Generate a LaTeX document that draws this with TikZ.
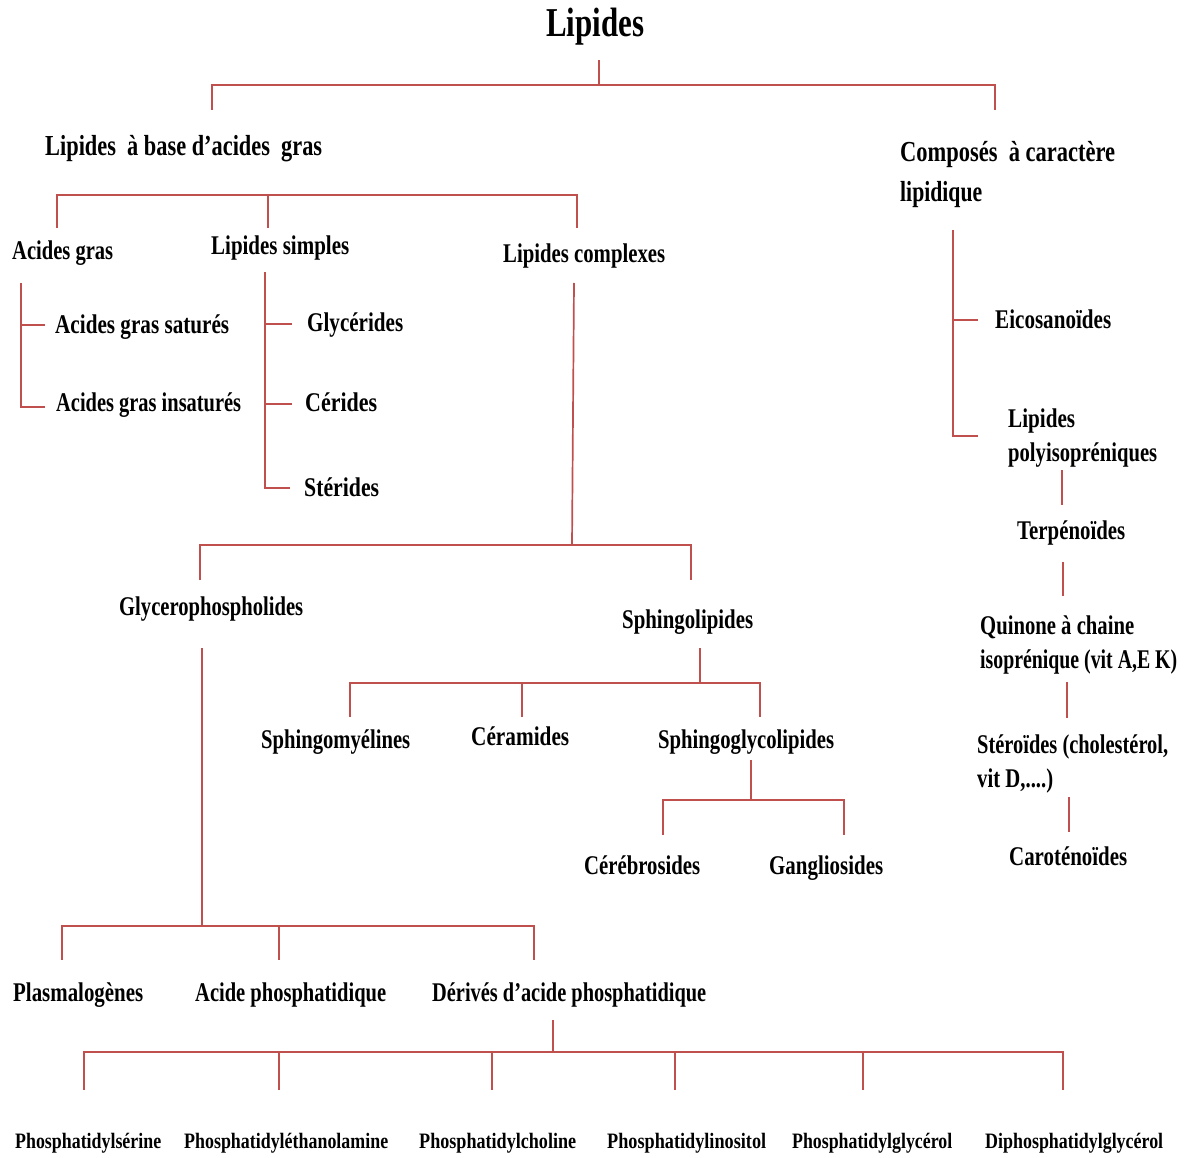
\documentclass[tikz,border=0pt]{standalone}
\usepackage{fontspec}
\usepackage{graphicx}
\setmainfont{Liberation Serif}
\definecolor{linec}{RGB}{192,80,77}
% text stretched to a given width, natural height kept
\newcommand\fitw[2]{\resizebox{#1pt}{\height}{#2}}
\tikzset{
  conn/.style={draw=linec, line width=1.7pt},
  lbl/.style={inner sep=0pt, anchor=base west, text=black},
  lbltitle/.style={lbl, font=\bfseries\fontsize{41}{45}\selectfont},
  lblhead/.style={lbl, font=\bfseries\fontsize{29}{33}\selectfont},
  lblmain/.style={lbl, font=\bfseries\fontsize{27}{31}\selectfont},
  lblsmall/.style={lbl, font=\bfseries\fontsize{22}{25}\selectfont},
}
\begin{document}
\begin{tikzpicture}[x=1pt, y=-1pt]
\useasboundingbox (0,0) rectangle (1184,1158);

% ---------- labels ----------
\node[lbltitle] (lip) at (546,37) {\fitw{98}{Lipides}};

\node[lblhead] (lbag) at (45,156) {\fitw{277}{Lipides\ \ à base d’acides\ \ gras}};
\node[lblhead] (comp1) at (900,162) {\fitw{215}{Composés\ \ à caractère}};
\node[lblhead] (comp2) at (900,202) {\fitw{82}{lipidique}};

\node[lblmain] (ag) at (12,260) {\fitw{101}{Acides gras}};
\node[lblmain] (ls) at (211,255) {\fitw{138}{Lipides simples}};
\node[lblmain] (lc) at (503,263) {\fitw{162}{Lipides complexes}};

\node[lblmain] (ags) at (55,334) {\fitw{174}{Acides gras saturés}};
\node[lblmain] (agi) at (56,412) {\fitw{185}{Acides gras insaturés}};

\node[lblmain] (gly) at (307,332) {\fitw{96}{Glycérides}};
\node[lblmain] (cer) at (305,412) {\fitw{72}{Cérides}};
\node[lblmain] (ste) at (304,496) {\fitw{75}{Stérides}};

\node[lblmain] (gpl) at (119,615) {\fitw{184}{Glycerophospholides}};
\node[lblmain] (sph) at (622,628) {\fitw{131}{Sphingolipides}};

\node[lblmain] (smy) at (261,748) {\fitw{149}{Sphingomyélines}};
\node[lblmain] (cera) at (471,745) {\fitw{98}{Céramides}};
\node[lblmain] (sgl) at (658,748) {\fitw{176}{Sphingoglycolipides}};

\node[lblmain] (cerb) at (584,874) {\fitw{116}{Cérébrosides}};
\node[lblmain] (gang) at (769,874) {\fitw{114}{Gangliosides}};

\node[lblmain] (plas) at (13,1001) {\fitw{130}{Plasmalogènes}};
\node[lblmain] (acph) at (195,1001) {\fitw{191}{Acide phosphatidique}};
\node[lblmain] (deri) at (432,1001) {\fitw{274}{Dérivés d’acide phosphatidique}};

\node[lblsmall] (pser) at (15,1148) {\fitw{146}{Phosphatidylsérine}};
\node[lblsmall] (peth) at (184,1148) {\fitw{204}{Phosphatidyléthanolamine}};
\node[lblsmall] (pcho) at (419,1148) {\fitw{157}{Phosphatidylcholine}};
\node[lblsmall] (pino) at (607,1148) {\fitw{159}{Phosphatidylinositol}};
\node[lblsmall] (pgly) at (792,1148) {\fitw{160}{Phosphatidylglycérol}};
\node[lblsmall] (dpgl) at (985,1148) {\fitw{178}{Diphosphatidylglycérol}};

\node[lblmain] (eico) at (995,329) {\fitw{116}{Eicosanoïdes}};
\node[lblmain] (lpi1) at (1008,427) {\fitw{67}{Lipides}};
\node[lblmain] (lpi2) at (1008,461) {\fitw{149}{polyisopréniques}};
\node[lblmain] (terp) at (1017,539) {\fitw{108}{Terpénoïdes}};
\node[lblmain] (quin1) at (980,634) {\fitw{154}{Quinone à chaine}};
\node[lblmain] (quin2) at (980,668) {\fitw{197}{isoprénique (vit A,E K)}};
\node[lblmain] (ster1) at (977,753) {\fitw{191}{Stéroïdes (cholestérol,}};
\node[lblmain] (ster2) at (977,787) {\fitw{76}{vit D,....)}};
\node[lblmain] (caro) at (1009,865) {\fitw{118}{Caroténoïdes}};

% ---------- connector end points ----------
% root
\coordinate (r0) at (599,60);  \coordinate (rbus) at (599,85);
\coordinate (r1) at (212,110); \coordinate (r2) at (995,110);
% fatty-acid based lipids
\coordinate (f0) at (268,195);
\coordinate (f1) at (57,228);  \coordinate (f2) at (268,228); \coordinate (f3) at (577,228);
% acides gras
\coordinate (a0) at (21,283);  \coordinate (a1) at (45,325); \coordinate (a2) at (45,407);
% lipides simples
\coordinate (s0) at (265,272); \coordinate (s1) at (292,324);
\coordinate (s2) at (292,404); \coordinate (s3) at (290,488);
% lipides complexes
\coordinate (c0) at (574,283); \coordinate (cbus) at (572,545);
\coordinate (c1) at (200,580); \coordinate (c2) at (691,580);
% sphingolipides
\coordinate (p0) at (700,648); \coordinate (pbus) at (700,683);
\coordinate (p1) at (350,717); \coordinate (p2) at (522,717); \coordinate (p3) at (760,717);
% sphingoglycolipides
\coordinate (g0) at (751,760); \coordinate (gbus) at (751,800);
\coordinate (g1) at (663,835); \coordinate (g2) at (844,835);
% glycerophospholides
\coordinate (h0) at (202,648); \coordinate (hbus) at (202,926);
\coordinate (h1) at (62,960);  \coordinate (h2) at (279,960); \coordinate (h3) at (534,960);
% derives d'acide phosphatidique
\coordinate (d0) at (553,1020); \coordinate (dbus) at (553,1052);
\coordinate (d1) at (84,1090);  \coordinate (d2) at (279,1090); \coordinate (d3) at (492,1090);
\coordinate (d4) at (675,1090); \coordinate (d5) at (863,1090); \coordinate (d6) at (1063,1090);
% composes a caractere lipidique
\coordinate (k0) at (953,230); \coordinate (k1) at (978,320); \coordinate (k2) at (978,436);
% polyisoprenic chain
\coordinate (q1a) at (1062,470); \coordinate (q1b) at (1062,505);
\coordinate (q2a) at (1063,562); \coordinate (q2b) at (1063,596);
\coordinate (q3a) at (1067,682); \coordinate (q3b) at (1067,718);
\coordinate (q4a) at (1069,797); \coordinate (q4b) at (1069,832);

% ---------- connectors ----------
\draw[conn] (r0) -- (rbus);
\draw[conn] (r1) |- (r2 |- rbus) -- (r2);

\draw[conn] (f1) |- (f3 |- f0) -- (f3);
\draw[conn] (f0) -- (f2);

\draw[conn] (a0) |- (a2);
\draw[conn] (a0 |- a1) -- (a1);

\draw[conn] (s0) |- (s3);
\draw[conn] (s0 |- s1) -- (s1);
\draw[conn] (s0 |- s2) -- (s2);

\draw[conn] (c0) -- (cbus);
\draw[conn] (c1) |- (c2 |- cbus) -- (c2);

\draw[conn] (p0) -- (pbus);
\draw[conn] (p1) |- (p3 |- pbus) -- (p3);
\draw[conn] (p2 |- pbus) -- (p2);

\draw[conn] (g0) -- (gbus);
\draw[conn] (g1) |- (g2 |- gbus) -- (g2);

\draw[conn] (h0) -- (hbus);
\draw[conn] (h1) |- (h3 |- hbus) -- (h3);
\draw[conn] (h2 |- hbus) -- (h2);

\draw[conn] (d0) -- (dbus);
\draw[conn] (d1) |- (d6 |- dbus) -- (d6);
\foreach \i in {d2,d3,d4,d5} \draw[conn] (\i |- dbus) -- (\i);

\draw[conn] (k0) |- (k2);
\draw[conn] (k0 |- k1) -- (k1);

\draw[conn] (q1a) -- (q1b);
\draw[conn] (q2a) -- (q2b);
\draw[conn] (q3a) -- (q3b);
\draw[conn] (q4a) -- (q4b);
\end{tikzpicture}
\end{document}
